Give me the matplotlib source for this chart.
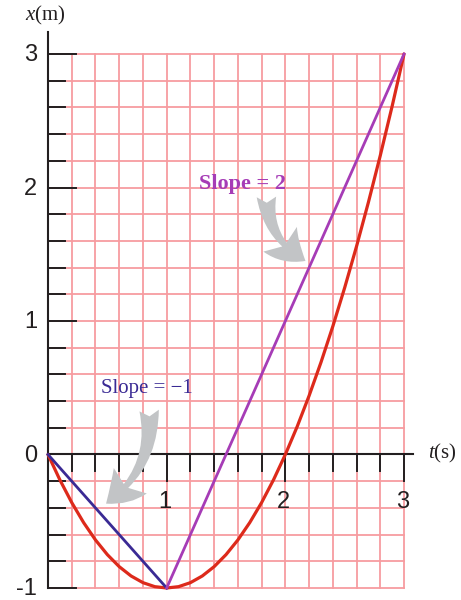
import numpy as np
import matplotlib.pyplot as plt
from matplotlib.patches import FancyArrowPatch

plt.rcParams['mathtext.fontset'] = 'custom'
plt.rcParams['mathtext.rm'] = 'Liberation Serif'
plt.rcParams['mathtext.it'] = 'Liberation Serif:italic'

# position x(t) of the particle, read at 0.1 s steps
t = [0.0, 0.1, 0.2, 0.3, 0.4, 0.5, 0.6, 0.7, 0.8, 0.9, 1.0,
     1.1, 1.2, 1.3, 1.4, 1.5, 1.6, 1.7, 1.8, 1.9, 2.0,
     2.1, 2.2, 2.3, 2.4, 2.5, 2.6, 2.7, 2.8, 2.9, 3.0]
x = [0.0, -0.19, -0.36, -0.51, -0.64, -0.75, -0.84, -0.91, -0.96, -0.99, -1.0,
     -0.99, -0.96, -0.91, -0.84, -0.75, -0.64, -0.51, -0.36, -0.19, 0.0,
     0.21, 0.44, 0.69, 0.96, 1.25, 1.56, 1.89, 2.24, 2.61, 3.0]

# chords: slope -1 on [0, 1] and slope 2 on [1, 3]
chord1_t = [0, 1]
chord1_x = [0, -1]
chord2_t = [1, 3]
chord2_x = [-1, 3]

t_ticks = [1, 2, 3]
x_ticks = [3, 2, 1, 0, -1]
x_tick_labels = ['3', '2', '1', '0', '-1']

ink = '#231f20'
pink = '#f79ca0'

fig = plt.figure(figsize=(4.61, 6.0), dpi=100)
ax = fig.add_axes([0, 0, 1, 1])
ax.set_xlim(-0.4045, 3.480)
ax.set_ylim(-1.0899, 3.4045)
ax.axis('off')

# graph paper, 0.2 per cell
for g in np.arange(0, 3.01, 0.2):
    ax.plot([g, g], [-1, 3], color=pink, lw=1.3, zorder=1)
for g in np.arange(-1, 3.01, 0.2):
    ax.plot([0, 3], [g, g], color=pink, lw=1.3, zorder=1)

# axes
ax.plot([0, 0], [-1, 3.165], color=ink, lw=1.5, zorder=3)
ax.plot([0, 3.076], [0, 0], color=ink, lw=1.5, zorder=3)

# ticks on the x axis (pointing right) and t axis (pointing down)
for k, g in enumerate(np.arange(-1, 3.01, 0.2)):
    ln = 0.236 if k % 5 == 0 else 0.143
    ax.plot([0, ln], [g, g], color=ink, lw=1.4, zorder=3)
for k, g in enumerate(np.arange(0.2, 3.01, 0.2), start=1):
    ln = 0.202 if k % 5 == 0 else 0.127
    ax.plot([g, g], [0, -ln], color=ink, lw=1.4, zorder=3)

for v, lab in zip(x_ticks, x_tick_labels):
    ax.text(-0.09, v - 0.01, lab, ha='right', va='center', fontsize=17,
            family='Liberation Sans', color=ink)
for v in t_ticks:
    ax.text(v - 0.015, -0.355, str(v), ha='center', va='center', fontsize=17,
            family='Liberation Sans', color=ink)

ax.text(-0.025, 3.292, r'$x$(m)', ha='center', va='center', fontsize=15,
        family='Liberation Serif', color=ink)
ax.text(3.32, 0.01, r'$t$(s)', ha='center', va='center', fontsize=15,
        family='Liberation Serif', color=ink)

# curve and chords
ax.plot(t, x, color='#dd2a1b', lw=2.3, zorder=5, solid_capstyle='round')
ax.plot(chord1_t, chord1_x, color='#3a2a94', lw=2.0, zorder=6)
ax.plot(chord2_t, chord2_x, color='#a63cb6', lw=2.0, zorder=6)

ax.text(1.635, 2.026, 'Slope = 2', ha='center', va='center', fontsize=16,
        fontweight='bold', family='Liberation Serif', color='#a63cb6', zorder=7)
ax.text(0.834, 0.491, 'Slope = \u22121', ha='center', va='center', fontsize=15,
        family='Liberation Serif', color='#3a2a94', zorder=7)

# grey curved pointers
style = 'fancy,head_length=0.6,head_width=0.75,tail_width=0.35'
ax.add_patch(FancyArrowPatch((1.84, 1.95), (2.19, 1.44), arrowstyle=style,
                             connectionstyle='arc3,rad=0.3', mutation_scale=40,
                             color='#c2c4c6', lw=0, zorder=4))
ax.add_patch(FancyArrowPatch((0.85, 0.35), (0.47, -0.38), arrowstyle=style,
                             connectionstyle='arc3,rad=-0.3', mutation_scale=40,
                             color='#c2c4c6', lw=0, zorder=4))

fig.savefig('out.png', dpi=100)
